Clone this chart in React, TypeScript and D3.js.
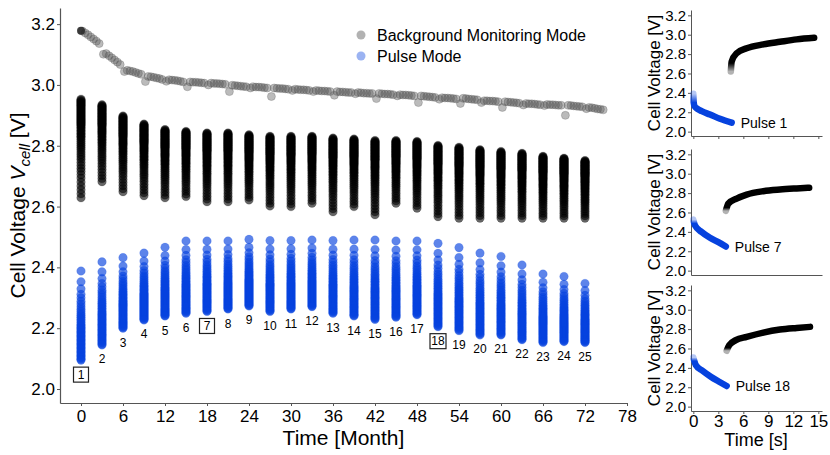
import React, { useEffect, useRef } from "react";
import * as d3 from "d3";

// ---- data ----
const pulseNumbers = [1, 2, 3, 4, 5, 6, 7, 8, 9, 10, 11, 12, 13, 14, 15, 16, 17, 18, 19, 20, 21, 22, 23, 24, 25];
const pulseMonths = [0, 3, 6, 9, 12, 15, 18, 21, 24, 27, 30, 33, 36, 39, 42, 45, 48, 51, 54, 57, 60, 63, 66, 69, 72];
const boxedPulses = [1, 7, 18];

// pulse mode (blue) voltage span of each pulse
const pulseMax = [2.388, 2.418, 2.432, 2.447, 2.466, 2.487, 2.487, 2.487, 2.492, 2.488, 2.488, 2.49, 2.488, 2.49, 2.49, 2.487, 2.487, 2.479, 2.465, 2.447, 2.436, 2.408, 2.378, 2.37, 2.347];
const pulseMin = [2.095, 2.145, 2.2, 2.227, 2.24, 2.249, 2.255, 2.263, 2.273, 2.255, 2.263, 2.271, 2.249, 2.24, 2.229, 2.236, 2.244, 2.205, 2.192, 2.178, 2.178, 2.162, 2.153, 2.156, 2.153];

// recovery after each pulse (black) voltage span
const recoveryMax = [2.953, 2.935, 2.898, 2.871, 2.853, 2.847, 2.842, 2.842, 2.836, 2.831, 2.831, 2.831, 2.825, 2.822, 2.817, 2.817, 2.814, 2.801, 2.795, 2.787, 2.781, 2.775, 2.765, 2.759, 2.751];
const recoveryMin = [2.629, 2.682, 2.649, 2.636, 2.629, 2.633, 2.616, 2.616, 2.622, 2.602, 2.6, 2.611, 2.583, 2.6, 2.573, 2.611, 2.595, 2.567, 2.562, 2.562, 2.562, 2.562, 2.562, 2.562, 2.562];

// normalised sample positions within a column
const pulseShape = [1, 0.88, 0.8, 0.74, 0.7, 0.66, 0.63, 0.6, 0.57, 0.545, 0.52, 0.5, 0.48, 0.46, 0.44, 0.42, 0.4, 0.385, 0.37, 0.355, 0.34, 0.325, 0.31, 0.295, 0.28, 0.265, 0.25, 0.235, 0.22, 0.205, 0.19, 0.175, 0.16, 0.145, 0.13, 0.115, 0.1, 0.085, 0.07, 0.055, 0.04, 0.025, 0.01, 0];
const recoveryShape = [0, 0.04, 0.08, 0.12, 0.16, 0.2, 0.235, 0.27, 0.3, 0.33, 0.36, 0.39, 0.415, 0.44, 0.465, 0.49, 0.51, 0.53, 0.55, 0.57, 0.59, 0.61, 0.625, 0.64, 0.655, 0.67, 0.685, 0.7, 0.715, 0.73, 0.74, 0.75, 0.76, 0.77, 0.78, 0.79, 0.8, 0.81, 0.82, 0.83, 0.84, 0.85, 0.86, 0.87, 0.88, 0.89, 0.9, 0.91, 0.92, 0.93, 0.94, 0.95, 0.96, 0.97, 0.98, 0.99, 1];

// background monitoring: one row per interval between pulses
const backgroundOffsets = [0.2, 0.6, 1.0, 1.4, 1.8, 2.2, 2.6];
const initialBackground = 3.178;
const backgroundSegments = [
  [3.177, 3.171, 3.165, 3.158, 3.151, 3.144, 3.136],
  [3.101, 3.103, 3.096, 3.089, 3.082, 3.075, 3.067],
  [3.044, 3.048, 3.046, 3.044, 3.041, 3.038, 3.035],
  [3.011, 3.028, 3.027, 3.025, 3.023, 3.021, 3.018],
  [3.012, 3.017, 3.016, 3.015, 3.014, 3.012, 3.01],
  [2.994, 3.01, 3.009, 3.009, 3.008, 3.007, 3.006],
  [3.0, 3.006, 3.005, 3.005, 3.004, 3.003, 3.002],
  [2.978, 2.999, 2.998, 2.997, 2.996, 2.995, 2.994],
  [2.99, 2.994, 2.993, 2.993, 2.992, 2.991, 2.99],
  [2.962, 2.99, 2.989, 2.988, 2.988, 2.987, 2.986],
  [2.982, 2.986, 2.985, 2.984, 2.984, 2.983, 2.982],
  [2.978, 2.982, 2.981, 2.98, 2.98, 2.979, 2.978],
  [2.966, 2.978, 2.977, 2.977, 2.976, 2.975, 2.975],
  [2.971, 2.975, 2.974, 2.973, 2.973, 2.972, 2.972],
  [2.955, 2.972, 2.971, 2.97, 2.97, 2.969, 2.968],
  [2.964, 2.968, 2.967, 2.967, 2.966, 2.965, 2.964],
  [2.942, 2.964, 2.963, 2.962, 2.961, 2.96, 2.959],
  [2.953, 2.958, 2.957, 2.957, 2.956, 2.955, 2.954],
  [2.939, 2.956, 2.955, 2.954, 2.953, 2.952, 2.951],
  [2.942, 2.948, 2.948, 2.947, 2.947, 2.946, 2.945],
  [2.926, 2.945, 2.944, 2.943, 2.942, 2.941, 2.94],
  [2.934, 2.939, 2.938, 2.938, 2.937, 2.936, 2.935],
  [2.932, 2.936, 2.935, 2.935, 2.934, 2.933, 2.933],
  [2.9, 2.933, 2.932, 2.931, 2.93, 2.929, 2.928],
  [2.922, 2.926, 2.925, 2.923, 2.921, 2.92, 2.918],
];

const monthTicks = [0, 6, 12, 18, 24, 30, 36, 42, 48, 54, 60, 66, 72, 78];
const voltTicks = [2.0, 2.2, 2.4, 2.6, 2.8, 3.0, 3.2];
const secondTicks = [0, 3, 6, 9, 12, 15];

// insets: [time s, voltage V]
const insetLabels = ["Pulse 1", "Pulse 7", "Pulse 18"];
const pulse1Blue: [number, number][] = [[0, 2.39], [0.05, 2.3], [0.15, 2.262], [0.5, 2.235], [1, 2.211], [2, 2.177], [3.2, 2.133], [4.6, 2.092]];
const pulse1Black: [number, number][] = [[4.5, 2.62], [4.6, 2.723], [5.2, 2.809], [6.4, 2.86], [8.4, 2.9], [10.4, 2.927], [12.4, 2.952], [14.5, 2.968]];
const pulse7Blue: [number, number][] = [[0, 2.526], [0.2, 2.467], [1.0, 2.398], [2.0, 2.339], [3.0, 2.294], [3.9, 2.249]];
const pulse7Black: [number, number][] = [[3.9, 2.616], [4.2, 2.692], [5.2, 2.744], [6.4, 2.785], [8.4, 2.82], [10.4, 2.837], [12.4, 2.848], [13.9, 2.855]];
const pulse18Blue: [number, number][] = [[0, 2.507], [0.3, 2.429], [1.1, 2.37], [2.1, 2.309], [3.1, 2.257], [4.0, 2.213]];
const pulse18Black: [number, number][] = [[4.0, 2.576], [4.3, 2.634], [5.1, 2.686], [6.4, 2.72], [8.4, 2.764], [10.4, 2.795], [12.4, 2.812], [14.0, 2.823]];

const FONT = "'Liberation Sans', Arial, Helvetica, sans-serif";
const BLUE = "#0642de";
const AXIS = "#555";

export default function App() {
  const svgRef = useRef<SVGSVGElement>(null);

  useEffect(() => {
    if (!svgRef.current) return;
    const svg = d3.select(svgRef.current);
    svg.selectAll("*").remove();

    const x = d3.scaleLinear().domain([-3, 78]).range([60, 627]);
    const y = d3.scaleLinear().domain([1.954, 3.253]).range([403, 8]);

    const styleAxis = (g: any, size: number) => {
      g.select(".domain").attr("stroke", AXIS).attr("stroke-width", 1.2);
      g.selectAll(".tick line").attr("stroke", AXIS);
      g.selectAll(".tick text")
        .attr("fill", "#000")
        .style("font-size", `${size}px`)
        .style("font-family", FONT);
    };

    // axes
    svg
      .append("g")
      .attr("transform", "translate(0,403)")
      .call(d3.axisBottom(x).tickValues(monthTicks).tickSize(3).tickSizeOuter(0).tickPadding(4))
      .call((g) => styleAxis(g, 17));
    svg
      .append("g")
      .attr("transform", "translate(60,0)")
      .call(
        d3.axisLeft(y).tickValues(voltTicks).tickSize(3).tickSizeOuter(0).tickPadding(2).tickFormat(d3.format(".1f"))
      )
      .call((g) => styleAxis(g, 17));

    // background monitoring points
    const bg = svg.append("g");
    backgroundSegments.forEach((row, k) => {
      row.forEach((v, j) => {
        bg.append("circle")
          .attr("cx", x(pulseMonths[k] + backgroundOffsets[j]))
          .attr("cy", y(v))
          .attr("r", 4)
          .attr("fill", "#555")
          .attr("fill-opacity", 0.4)
          .attr("stroke", "#555")
          .attr("stroke-opacity", 0.35)
          .attr("stroke-width", 0.8);
      });
    });
    bg.append("circle")
      .attr("cx", x(0))
      .attr("cy", y(initialBackground))
      .attr("r", 4)
      .attr("fill", "#222")
      .attr("fill-opacity", 0.85);

    // recovery (black) and pulse (blue) columns
    const cols = svg.append("g");
    pulseMonths.forEach((m, i) => {
      recoveryShape.forEach((p) => {
        cols.append("circle")
          .attr("cx", x(m))
          .attr("cy", y(recoveryMin[i] + p * (recoveryMax[i] - recoveryMin[i])))
          .attr("r", 4.3)
          .attr("fill", "#000")
          .attr("fill-opacity", 0.6)
          .attr("stroke", "#000")
          .attr("stroke-opacity", 0.25)
          .attr("stroke-width", 0.6);
      });
      pulseShape.forEach((p) => {
        cols.append("circle")
          .attr("cx", x(m))
          .attr("cy", y(pulseMin[i] + p * (pulseMax[i] - pulseMin[i])))
          .attr("r", 4.3)
          .attr("fill", BLUE)
          .attr("fill-opacity", 0.65)
          .attr("stroke", BLUE)
          .attr("stroke-opacity", 0.25)
          .attr("stroke-width", 0.6);
      });
    });

    // pulse numbers
    pulseNumbers.forEach((n, i) => {
      const cx = x(pulseMonths[i]);
      const cy = y(pulseMin[i]) + 14.5;
      if (boxedPulses.includes(n)) {
        const w = n > 9 ? 16 : 15;
        svg.append("rect")
          .attr("x", cx - w / 2)
          .attr("y", cy - 7.5)
          .attr("width", w)
          .attr("height", 15)
          .attr("fill", "white")
          .attr("stroke", "#222")
          .attr("stroke-width", 1.2);
      }
      svg.append("text")
        .attr("x", cx)
        .attr("y", cy)
        .attr("text-anchor", "middle")
        .attr("dominant-baseline", "central")
        .style("font-family", FONT)
        .style("font-size", "12px")
        .text(n);
    });

    // legend
    const legend = svg.append("g").style("font-family", FONT).style("font-size", "16px");
    legend.append("circle").attr("cx", 361).attr("cy", 35).attr("r", 4.5).attr("fill", "#555").attr("fill-opacity", 0.45);
    legend.append("text").attr("x", 377).attr("y", 35).attr("dominant-baseline", "central").text("Background Monitoring Mode");
    legend.append("circle").attr("cx", 361).attr("cy", 56).attr("r", 4.5).attr("fill", BLUE).attr("fill-opacity", 0.4);
    legend.append("text").attr("x", 377).attr("y", 56).attr("dominant-baseline", "central").text("Pulse Mode");

    // axis titles
    svg.append("text")
      .attr("x", (60 + 627) / 2)
      .attr("y", 445)
      .attr("text-anchor", "middle")
      .style("font-family", FONT)
      .style("font-size", "21px")
      .text("Time [Month]");

    const yt = svg.append("text")
      .attr("transform", `translate(25,${(8 + 403) / 2}) rotate(-90)`)
      .attr("text-anchor", "middle")
      .style("font-family", FONT)
      .style("font-size", "21px");
    yt.append("tspan").text("Cell Voltage ");
    yt.append("tspan").style("font-style", "italic").text("V");
    yt.append("tspan").style("font-style", "italic").style("font-size", "15px").attr("dy", 5).text("cell");
    yt.append("tspan").attr("dy", -5).text(" [V]");

    // ---- insets ----
    const defs = svg.append("defs");
    const insetX = d3.scaleLinear().domain([-0.28, 15.44]).range([691, 822]);
    const panelTops = [10, 149, 285];
    const panelH = 126;
    const blueSets = [pulse1Blue, pulse7Blue, pulse18Blue];
    const blackSets = [pulse1Black, pulse7Black, pulse18Black];
    const blueFade = [0.3, 0.14, 0.12];
    const blackFade = [0.25, 0.14, 0.12];

    panelTops.forEach((top, k) => {
      const iy = d3.scaleLinear().domain([1.955, 3.255]).range([top + panelH, top]);
      const last = k === panelTops.length - 1;

      const xa = svg
        .append("g")
        .attr("transform", `translate(0,${top + panelH})`)
        .call(
          d3.axisBottom(insetX)
            .tickValues(secondTicks)
            .tickSize(k === 1 ? 0 : 3)
            .tickSizeOuter(0)
            .tickPadding(1)
            .tickFormat((d) => (last ? String(d) : ""))
        )
        .call((g) => styleAxis(g, 17));
      xa.select(".domain").attr("stroke-width", 1);

      svg
        .append("g")
        .attr("transform", "translate(691,0)")
        .call(d3.axisLeft(iy).tickValues(voltTicks).tickSize(3).tickSizeOuter(0).tickPadding(2).tickFormat(d3.format(".1f")))
        .call((g) => styleAxis(g, 15))
        .select(".domain")
        .attr("stroke-width", 1);

      svg.append("text")
        .attr("transform", `translate(654,${top + panelH / 2}) rotate(-90)`)
        .attr("text-anchor", "middle")
        .attr("dominant-baseline", "central")
        .style("font-family", FONT)
        .style("font-size", "17px")
        .text("Cell Voltage [V]");

      const gb = defs.append("linearGradient").attr("id", `bf${k}`).attr("x1", 0).attr("y1", 0).attr("x2", 0).attr("y2", 1);
      gb.append("stop").attr("offset", 0).attr("stop-color", BLUE).attr("stop-opacity", 0.3);
      gb.append("stop").attr("offset", blueFade[k]).attr("stop-color", BLUE).attr("stop-opacity", 1);
      gb.append("stop").attr("offset", 1).attr("stop-color", BLUE).attr("stop-opacity", 1);
      const gk = defs.append("linearGradient").attr("id", `kf${k}`).attr("x1", 0).attr("y1", 1).attr("x2", 0).attr("y2", 0);
      gk.append("stop").attr("offset", 0).attr("stop-color", "#000").attr("stop-opacity", 0.3);
      gk.append("stop").attr("offset", blackFade[k]).attr("stop-color", "#000").attr("stop-opacity", 1);
      gk.append("stop").attr("offset", 1).attr("stop-color", "#000").attr("stop-opacity", 1);

      const line = d3
        .line<[number, number]>()
        .x((d) => insetX(d[0]))
        .y((d) => iy(d[1]))
        .curve(d3.curveMonotoneX);

      svg.append("path")
        .datum(blackSets[k])
        .attr("d", line)
        .attr("fill", "none")
        .attr("stroke", `url(#kf${k})`)
        .attr("stroke-width", 6.5)
        .attr("stroke-linecap", "round");
      svg.append("path")
        .datum(blueSets[k])
        .attr("d", line)
        .attr("fill", "none")
        .attr("stroke", `url(#bf${k})`)
        .attr("stroke-width", 6.5)
        .attr("stroke-linecap", "round");

      const end = blueSets[k][blueSets[k].length - 1];
      svg.append("text")
        .attr("x", insetX(end[0]) + 9)
        .attr("y", iy(end[1]))
        .attr("dominant-baseline", "central")
        .style("font-family", FONT)
        .style("font-size", "14px")
        .text(insetLabels[k]);
    });

    svg.append("text")
      .attr("x", 756)
      .attr("y", 446)
      .attr("text-anchor", "middle")
      .style("font-family", FONT)
      .style("font-size", "18px")
      .text("Time [s]");
  }, []);

  return (
    <svg
      ref={svgRef}
      width={830}
      height={455}
      style={{ position: "absolute", left: 0, top: 0, background: "white" }}
    />
  );
}
